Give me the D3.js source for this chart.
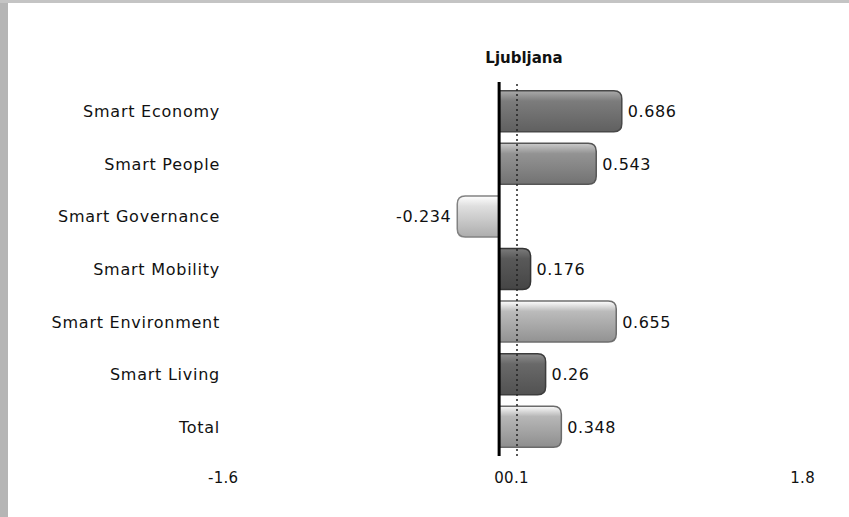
<!DOCTYPE html>
<html>
<head>
<meta charset="utf-8">
<script src="https://cdn.jsdelivr.net/npm/d3@7"></script>
<style>
  body { margin: 0; background: #fff; }
  text { font-family: "DejaVu Sans", Verdana, sans-serif; fill: #111; }
</style>
</head>
<body>
<div id="chart"></div>
<script>
const categories = ['Smart Economy', 'Smart People', 'Smart Governance', 'Smart Mobility',
  'Smart Environment', 'Smart Living', 'Total'];
const values = [0.686, 0.543, -0.234, 0.176, 0.655, 0.26, 0.348];
const tickValues = [-1.6, 0, 0.1, 1.8];
const refValue = 0.1;
const title = 'Ljubljana';

// grey tone of each bar (scan look)
const tones = ['#6f6f6f', '#848484', '#c8c8c8', '#505050', '#a8a8a8', '#5e5e5e', '#a4a4a4'];

const W = 849, H = 517;
const svg = d3.select('#chart').append('svg').attr('width', W).attr('height', H);

// scan border
svg.append('rect').attr('x', 0).attr('y', 0).attr('width', 8).attr('height', H).attr('fill', '#b5b5b5');
svg.append('rect').attr('x', 0).attr('y', 0).attr('width', W).attr('height', 3).attr('fill', '#c4c4c4');

const x = d3.scaleLinear().domain([-1.6, 1.8]).range([213, 821]);
const y = d3.scaleBand().domain(categories).range([85, 453]).paddingInner(0.22).paddingOuter(0.11);

const defs = svg.append('defs');
tones.forEach((c, i) => {
  const base = d3.color(c);
  const g = defs.append('linearGradient').attr('id', 'g' + i)
    .attr('x1', 0).attr('y1', 0).attr('x2', 0).attr('y2', 1);
  g.append('stop').attr('offset', '0%').attr('stop-color', base.brighter(1.2));
  g.append('stop').attr('offset', '25%').attr('stop-color', base.brighter(0.3));
  g.append('stop').attr('offset', '60%').attr('stop-color', base);
  g.append('stop').attr('offset', '100%').attr('stop-color', base.darker(0.4));
});

svg.append('text').attr('x', 524).attr('y', 63).attr('text-anchor', 'middle')
  .attr('font-weight', 'bold').attr('font-size', 15).text(title);

// bars with a rounded outer end
function barPath(v, top, h) {
  const x0 = x(0), x1 = x(v), r = 8;
  const s = v >= 0 ? 1 : -1;
  return `M${x0},${top} L${x1 - s * r},${top} Q${x1},${top} ${x1},${top + r} ` +
    `L${x1},${top + h - r} Q${x1},${top + h} ${x1 - s * r},${top + h} L${x0},${top + h} Z`;
}

svg.selectAll('.bar').data(values).enter().append('path')
  .attr('class', 'bar')
  .attr('d', (d, i) => barPath(d, y(categories[i]), y.bandwidth()))
  .attr('fill', (d, i) => 'url(#g' + i + ')')
  .attr('stroke', (d, i) => d3.color(tones[i]).darker(1.2))
  .attr('stroke-width', 1.5);

svg.selectAll('.cat').data(categories).enter().append('text')
  .attr('x', 220).attr('y', d => y(d) + y.bandwidth() / 2 + 6)
  .attr('text-anchor', 'end').attr('font-size', 16).attr('letter-spacing', 0.75).text(d => d);

svg.selectAll('.val').data(values).enter().append('text')
  .attr('x', d => d >= 0 ? x(d) + 6 : x(d) - 6)
  .attr('y', (d, i) => y(categories[i]) + y.bandwidth() / 2 + 6)
  .attr('text-anchor', d => d >= 0 ? 'start' : 'end')
  .attr('font-size', 16).attr('letter-spacing', 0.6).text(d => d);

// reference dotted line and zero line
svg.append('line').attr('x1', x(refValue)).attr('x2', x(refValue))
  .attr('y1', 84).attr('y2', 456).attr('stroke', '#222').attr('stroke-width', 1.5)
  .attr('stroke-dasharray', '2,3');
svg.append('line').attr('x1', x(0)).attr('x2', x(0))
  .attr('y1', 82).attr('y2', 456).attr('stroke', '#000').attr('stroke-width', 3);

svg.selectAll('.tick').data(tickValues).enter().append('text')
  .attr('x', d => d === -1.6 ? x(d) - 5 : d === 1.8 ? x(d) - 6 : x(0) + 5)
  .attr('y', 483)
  .attr('text-anchor', d => d === -1.6 || d === refValue ? 'start' : 'end')
  .attr('font-size', 15).attr('letter-spacing', 0.3).text(d => d);
</script>
</body>
</html>
